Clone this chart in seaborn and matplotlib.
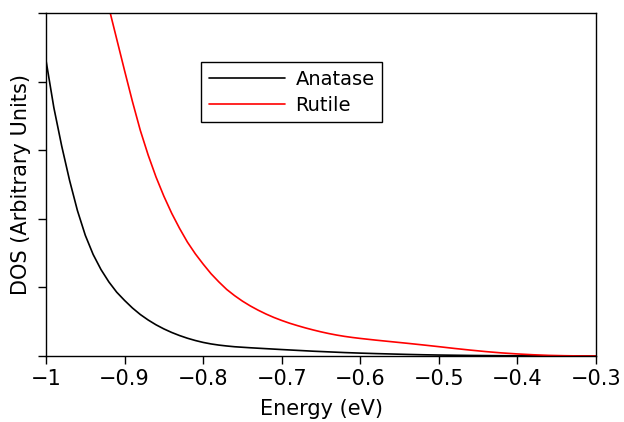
import numpy as np
import pandas as pd
import matplotlib
matplotlib.use("Agg")
import matplotlib.pyplot as plt
import seaborn as sns

# values
anatase_energy = [-1.00, -0.99, -0.98, -0.97, -0.96, -0.95, -0.94, -0.93, -0.92, -0.91,
                  -0.90, -0.89, -0.88, -0.87, -0.86, -0.85, -0.84, -0.83, -0.82, -0.81,
                  -0.80, -0.79, -0.78, -0.77, -0.76, -0.74, -0.72, -0.70, -0.68, -0.66,
                  -0.64, -0.62, -0.60, -0.58, -0.56, -0.54, -0.52, -0.50, -0.48, -0.46,
                  -0.44, -0.42, -0.40, -0.35, -0.30]
anatase_dos = [4.31, 3.62, 3.06, 2.56, 2.12, 1.76, 1.48, 1.26, 1.08, 0.93,
               0.81, 0.70, 0.605, 0.525, 0.455, 0.395, 0.343, 0.298, 0.259, 0.226,
               0.198, 0.176, 0.159, 0.146, 0.135, 0.12, 0.107, 0.094, 0.082, 0.07,
               0.06, 0.05, 0.042, 0.035, 0.029, 0.023, 0.018, 0.014, 0.011, 0.008,
               0.006, 0.004, 0.003, 0.001, 0.0]

rutile_energy = [-0.93, -0.92, -0.91, -0.90, -0.89, -0.88, -0.87, -0.86, -0.85, -0.84,
                 -0.83, -0.82, -0.81, -0.80, -0.79, -0.78, -0.77, -0.76, -0.75, -0.74,
                 -0.73, -0.72, -0.71, -0.70, -0.69, -0.68, -0.67, -0.66, -0.65, -0.64,
                 -0.63, -0.62, -0.61, -0.60, -0.58, -0.56, -0.54, -0.52, -0.50, -0.48,
                 -0.46, -0.44, -0.42, -0.40, -0.38, -0.36, -0.34, -0.32, -0.30]
rutile_dos = [5.56, 5.08, 4.62, 4.16, 3.71, 3.29, 2.93, 2.61, 2.33, 2.08,
              1.86, 1.66, 1.49, 1.34, 1.20, 1.08, 0.97, 0.88, 0.80, 0.73,
              0.668, 0.612, 0.562, 0.518, 0.478, 0.443, 0.41, 0.38, 0.352, 0.327,
              0.305, 0.286, 0.27, 0.256, 0.231, 0.208, 0.185, 0.161, 0.136, 0.11,
              0.086, 0.064, 0.045, 0.03, 0.018, 0.009, 0.004, 0.001, 0.0]

x_ticks = [-1, -0.9, -0.8, -0.7, -0.6, -0.5, -0.4, -0.3]
x_tick_labels = ["\u22121", "\u22120.9", "\u22120.8", "\u22120.7", "\u22120.6", "\u22120.5", "\u22120.4", "\u22120.3"]
y_ticks = [0, 1, 2, 3, 4, 5]

df = pd.concat([
    pd.DataFrame({"Energy": anatase_energy, "DOS": anatase_dos, "Phase": "Anatase"}),
    pd.DataFrame({"Energy": rutile_energy, "DOS": rutile_dos, "Phase": "Rutile"}),
])

sns.set_style("ticks")
plt.rcParams["font.family"] = ["DejaVu Sans"]
plt.rcParams["text.color"] = "black"
plt.rcParams["axes.labelcolor"] = "black"

fig = plt.figure(figsize=(6.24, 4.22), dpi=100)
ax = fig.add_axes([46 / 624, 1 - 356 / 422, 550 / 624, 343 / 422])

sns.lineplot(data=df, x="Energy", y="DOS", hue="Phase", estimator=None, sort=False,
             palette={"Anatase": "black", "Rutile": "red"}, linewidth=1.2, ax=ax)

ax.set_xlim(-1, -0.3)
ax.set_ylim(0, 5)
ax.set_xticks(x_ticks)
ax.set_xticklabels(x_tick_labels, fontsize=15)
ax.set_yticks(y_ticks)
ax.set_yticklabels([])
ax.tick_params(direction="out", length=6, width=1, colors="black")
for s in ax.spines.values():
    s.set_color("black")
    s.set_linewidth(1.0)

ax.set_xlabel("Energy (eV)", fontsize=15, labelpad=7)
ax.set_ylabel("DOS (Arbitrary Units)", fontsize=15, labelpad=1)

leg = ax.legend(loc="upper left", bbox_to_anchor=(0.282, 0.857), borderaxespad=0,
                fontsize=14, handlelength=3.9, handletextpad=0.55, labelspacing=0.35,
                fancybox=False, framealpha=1, edgecolor="black", title=None)
leg.get_frame().set_linewidth(1.0)

fig.savefig("out.png", dpi=100)
